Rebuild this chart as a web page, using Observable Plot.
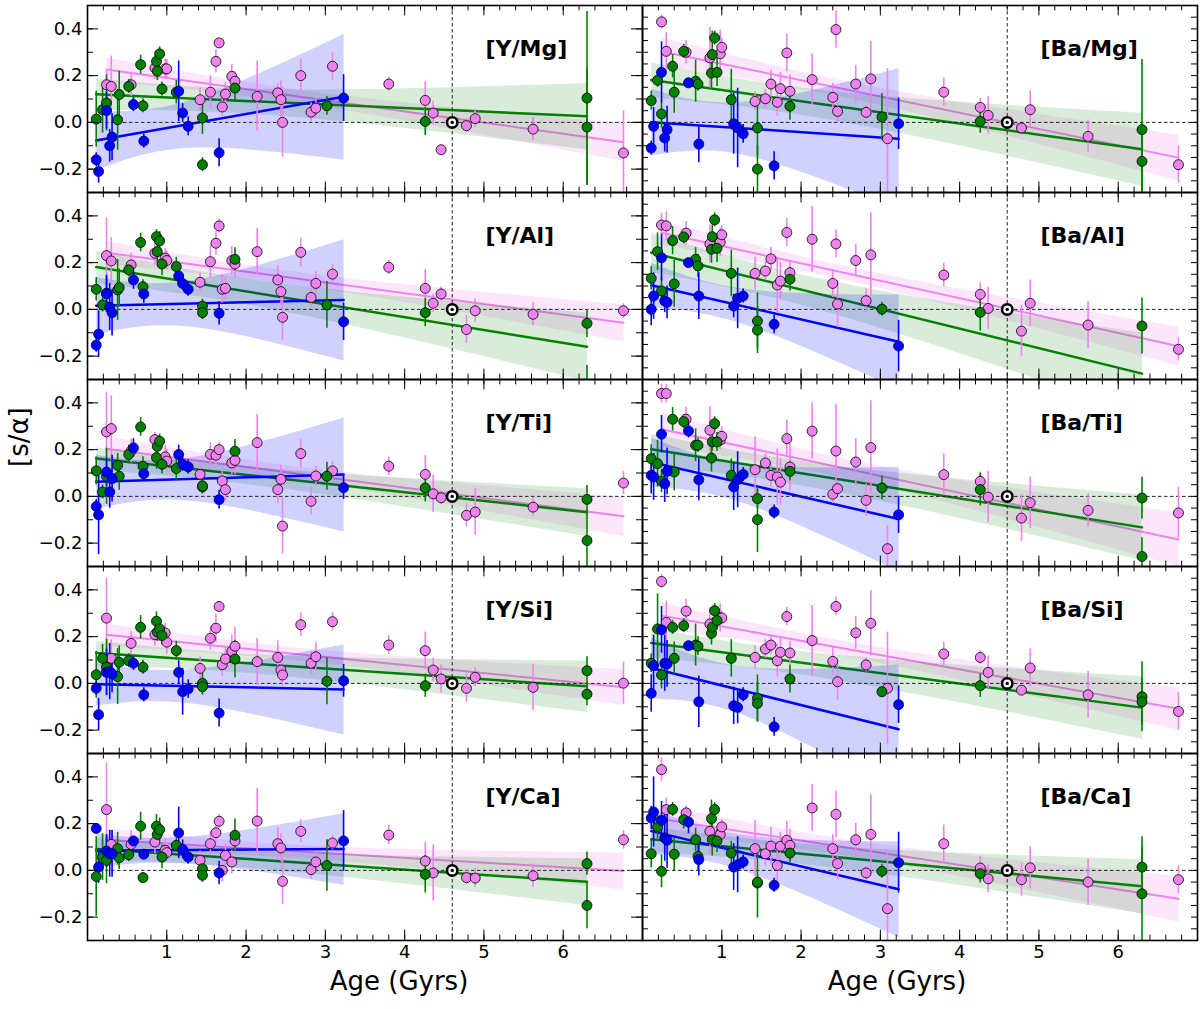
<!DOCTYPE html>
<html><head><meta charset="utf-8">
<script src="https://cdn.jsdelivr.net/npm/d3@7"></script>
<script src="https://cdn.jsdelivr.net/npm/@observablehq/plot@0.6"></script>
<style>body{margin:0;background:#fff}#chart svg{display:block}</style>
</head><body><div id="chart"></div>
<script>
// ---------- categories ----------
const cols = ["Y", "Ba"];
const rows = ["Mg", "Al", "Ti", "Si", "Ca"];
const groups = ["pink", "green", "blue"];
const groupColors = {pink: "#ee82ee", green: "#008000", blue: "#0000ff"};

// ---------- star ages (Gyr) per group ----------
const blueAges = [0.11, 0.14, 0.24, 0.28, 0.31, 0.58, 0.71, 1.15, 1.20, 1.27, 1.66, 3.23];
const greenAges = [0.11, 0.19, 0.24, 0.38, 0.40, 0.52, 0.67, 0.70, 0.87, 0.88, 0.91, 0.94, 1.12, 1.45, 1.45, 1.86, 3.02, 4.26, 6.30, 6.30];
const pinkAges = [0.24, 0.30, 0.55, 0.85, 0.98, 1.00, 1.42, 1.55, 1.62, 1.66, 1.70, 1.74, 1.82, 1.86, 2.14, 2.40, 2.44, 2.46, 2.69, 2.82, 2.88, 3.09, 3.80, 4.26, 4.36, 4.46, 4.78, 4.89, 5.62, 6.76];

// ---------- [s/alpha] values as [value, error] ----------
const blueYMg = [[-0.16,.03],[-0.21,.05],[0.05,.08],[-0.10,.07],[-0.063,.1],[0.076,.03],[-0.08,.03],[0.133,.13],[0.04,.04],[-0.017,.04],[-0.13,.06],[0.104,.1]];
const greenYMg = [[0.014,.12],[0.054,.1],[0.083,.12],[0.011,.13],[0.119,.1],[0.154,.03],[0.247,.04],[0.071,.03],[0.261,.04],[0.219,.04],[0.293,.03],[0.143,.03],[0.129,.05],[0.019,.07],[-0.181,.03],[0.147,.06],[0.071,.04],[0.004,.06],[0.104,.37],[-0.02,.25]];
const pinkYMg = [[0.161,.06],[0.154,.13],[0.161,.05],[0.233,.05],[0.229,.04],[0.229,.04],[0.097,.05],[0.129,.07],[0.261,.05],[0.34,.02],[0.066,.04],[0.121,.05],[0.197,.05],[0.176,.04],[0.111,.15],[0.126,.04],[0.097,.08],[0.0,.15],[0.2,.07],[0.044,.04],[0.061,.04],[0.24,.06],[0.164,.03],[0.094,.08],[0.04,.05],[-0.117,.02],[-0.014,.03],[0.016,.04],[-0.029,.05],[-0.131,.18]];

const blueBaMg = [[-0.11,.03],[-0.017,.08],[0.214,.13],[-0.067,.06],[-0.031,.1],[0.169,.02],[-0.093,.08],[-0.006,.13],[-0.024,.17],[-0.049,.04],[-0.186,.06],[-0.006,.11]];
const greenBaMg = [[0.093,.04],[0.18,.03],[0.036,.06],[0.24,.05],[0.129,.09],[0.304,.03],[0.176,.09],[0.164,.03],[0.211,.07],[0.29,.1],[0.361,.03],[0.214,.06],[0.097,.13],[-0.024,.12],[-0.2,.1],[0.069,.06],[0.023,.1],[0.004,.05],[-0.031,.3],[-0.167,.13]];
const pinkBaMg = [[0.43,.03],[0.304,.08],[0.3,.05],[0.276,.13],[0.294,.1],[0.321,.04],[0.09,.04],[0.101,.04],[0.164,.06],null,[0.086,.06],[0.144,.07],[0.297,.08],[0.133,.07],[0.183,.11],[0.107,.06],[0.397,.08],[0.047,.05],[0.164,.08],[0.043,.03],[0.186,.16],[-0.07,.3],[0.129,.06],[0.064,.04],[0.03,.08],null,[-0.024,.02],[0.054,.08],[-0.06,.07],[-0.181,.08]];

const blueYAl = [[-0.153,.03],[-0.106,.1],[0.066,.08],[0.01,.1],[-0.014,.1],[0.126,.04],[0.066,.04],[0.143,.04],[0.111,.03],[0.086,.03],[-0.017,.05],[-0.053,.08]];
const greenYAl = [[0.086,.05],[0.019,.03],[0.069,.07],[0.083,.13],[0.093,.08],[0.169,.03],[0.286,.04],[0.097,.03],[0.311,.03],[0.247,.05],[0.293,.04],[0.194,.05],[0.183,.04],[0.014,.03],[-0.014,.03],[0.214,.05],[0.019,.1],[-0.014,.06],[-0.06,.06],[-0.34,.1]];
const pinkYAl = [[0.23,.16],[0.207,.1],[0.19,.05],[0.24,.05],[0.219,.04],[0.209,.04],[0.116,.04],[0.204,.07],[0.283,.05],[0.357,.03],[0.086,.06],[0.09,.05],[0.209,.06],[0.194,.06],[0.247,.1],[0.126,.06],[0.076,.06],[-0.034,.1],[0.244,.06],[0.051,.04],[0.111,.05],[0.151,.04],[0.18,.03],[0.09,.08],[0.026,.04],[0.066,.03],[-0.086,.06],[-0.006,.05],[-0.021,.05],[-0.006,.03]];

const blueBaAl = [[0.0,.07],[0.057,.1],[0.221,.1],[0.036,.05],[0.03,.07],[0.2,.02],[0.057,.1],[0.014,.05],[0.047,.13],[0.057,.03],[-0.064,.04],[-0.157,.11]];
const greenBaAl = [[0.133,.05],[0.247,.08],[0.079,.06],[0.294,.06],[0.109,.1],[0.31,.03],[0.214,.05],[0.186,.05],[0.257,.06],[0.311,.05],[0.383,.03],[0.261,.06],[0.154,.1],[-0.05,.12],[-0.089,.1],[0.129,.05],[0.001,.03],[-0.013,.08],[-0.071,.12],[-0.53,.15]];
const pinkBaAl = [[0.361,.05],[0.357,.06],[0.326,.05],[0.28,.08],[0.287,.06],[0.319,.04],[0.154,.07],[0.164,.04],[0.216,.05],null,[0.104,.12],[0.121,.08],[0.329,.06],[0.157,.05],[0.3,.14],[0.111,.06],[0.28,.06],[0.023,.1],[0.209,.07],[0.037,.05],[0.233,.18],null,[0.147,.05],[0.064,.05],[0.004,.09],null,[-0.093,.11],[0.026,.1],[-0.067,.1],[-0.171,.05]];

const blueYTi = [[-0.043,.03],[-0.079,.17],[0.104,.06],[0.019,.07],[0.076,.1],[0.207,.04],[0.097,.03],[0.179,.04],[0.137,.03],[0.126,.03],[-0.014,.04],[0.037,.05]];
const greenYTi = [[0.109,.06],[0.019,.03],[0.086,.12],[0.133,.05],[0.086,.06],[0.179,.04],[0.297,.04],[0.129,.04],[0.166,.05],[0.214,.04],[0.236,.03],[0.137,.04],[0.119,.05],[0.04,.03],[0.045,.03],[0.193,.05],[0.086,.06],[0.036,.06],[-0.013,.06],[-0.189,.13]];
const pinkYTi = [[0.276,.17],[0.29,.14],[0.194,.05],[0.243,.03],[0.169,.05],[0.151,.05],[0.094,.04],[0.18,.05],[0.176,.04],[0.2,.03],[0.066,.04],[0.029,.05],[0.143,.05],[0.154,.06],[0.23,.12],[0.029,.06],[0.073,.06],[-0.127,.12],[0.183,.06],[-0.021,.06],[0.087,.04],[0.109,.04],[0.129,.04],[0.094,.08],[0.011,.08],[-0.006,.03],[-0.081,.05],[-0.067,.1],[-0.046,.04],[0.057,.05]];

const blueBaTi = [[0.09,.08],[0.083,.1],[0.266,.08],[0.054,.08],[0.107,.1],[0.28,.03],[0.071,.09],[0.04,.1],[0.071,.12],[0.094,.03],[-0.067,.03],[-0.079,.08]];
const greenBaTi = [[0.161,.06],[0.14,.1],[0.066,.05],[0.33,.05],[0.104,.08],[0.32,.03],[0.219,.07],[0.219,.03],[0.164,.06],[0.233,.04],[0.311,.03],[0.233,.04],[0.09,.07],[-0.01,.04],[-0.1,.14],[0.107,.04],[0.036,.05],[0.029,.07],[-0.007,.09],[-0.257,.08]];
const pinkBaTi = [[0.44,.04],[0.44,.04],[0.33,.05],[0.283,.1],[0.24,.04],[0.257,.04],[0.114,.14],[0.143,.04],[0.09,.05],null,[0.083,.12],[0.061,.1],[0.247,.08],[0.126,.1],[0.279,.12],[0.009,.04],[0.194,.2],[0.033,.03],[0.147,.1],[-0.017,.07],[0.209,.2],[-0.224,.1],[0.093,.09],[0.064,.04],[-0.003,.11],null,[-0.093,.1],[-0.027,.11],[-0.06,.07],[-0.071,.11]];

const blueYSi = [[-0.021,.03],[-0.134,.07],[0.047,.1],[0.05,.12],[0.04,.08],[0.086,.03],[-0.049,.03],[0.047,.05],[-0.036,.1],[-0.024,.04],[-0.127,.06],[0.011,.07]];
const greenYSi = [[0.037,.1],[0.107,.06],[0.069,.12],[0.029,.12],[0.09,.07],[0.097,.03],[0.24,.05],[0.069,.03],[0.266,.04],[0.22,.04],[0.233,.04],[0.205,.04],[0.14,.04],[0.0,.05],[-0.014,.03],[0.104,.08],[0.009,.1],[-0.01,.05],[0.054,.06],[-0.046,.05]];
const pinkYSi = [[0.279,.17],[0.107,.08],[0.171,.05],[0.209,.05],[0.216,.04],[0.176,.05],[0.064,.05],[0.193,.05],[0.236,.06],[0.329,.02],[0.08,.05],[0.104,.05],[0.137,.07],[0.159,.08],[0.093,.1],[0.111,.07],[0.057,.05],[0.036,.05],[0.251,.05],[0.086,.05],[0.114,.06],[0.264,.04],[0.164,.04],[0.14,.08],[0.057,.05],[0.019,.06],[-0.021,.06],[0.026,.04],[-0.017,.1],[0.001,.09]];

const blueBaSi = [[-0.043,.08],[0.076,.13],[0.229,.1],[0.086,.12],[0.083,.1],[0.161,.02],[-0.079,.11],[-0.096,.08],[-0.103,.07],[-0.049,.03],[-0.186,.04],[-0.091,.08]];
const greenBaSi = [[0.086,.04],[0.233,.15],[0.036,.06],[0.24,.03],[0.107,.07],[0.247,.03],[0.164,.09],[0.159,.04],[0.214,.05],[0.24,.04],[0.311,.03],[0.269,.04],[0.107,.08],[-0.064,.1],[-0.086,.08],[0.019,.06],[-0.036,.02],[-0.01,.05],[-0.057,.15],[-0.079,.1]];
const pinkBaSi = [[0.436,.03],[0.261,.09],[0.309,.05],[0.254,.07],[0.28,.06],[0.28,.03],[0.111,.05],[0.147,.04],[0.164,.04],null,[0.097,.07],[0.133,.06],[0.286,.04],[0.13,.05],[0.183,.15],[0.094,.06],[0.329,.04],[0.007,.08],[0.216,.07],[0.079,.03],[0.257,.14],[-0.021,.24],[0.126,.05],[0.111,.03],[0.047,.07],null,[-0.029,.02],[0.066,.08],[-0.049,.1],[-0.12,.08]];

const blueYCa = [[0.179,.02],[0.014,.07],[0.083,.07],[0.071,.1],[0.071,.1],[0.126,.02],[0.069,.02],[0.16,.11],[0.09,.04],[0.057,.03],[-0.011,.05],[0.126,.13]];
const greenYCa = [[-0.026,.17],[0.057,.1],[0.043,.1],[0.093,.07],[0.054,.05],[0.067,.03],[0.189,.06],[-0.031,.02],[0.189,.05],[0.154,.04],[0.174,.05],[0.057,.05],[0.107,.03],[0.007,.03],[-0.021,.03],[0.15,.07],[0.021,.11],[-0.017,.08],[0.029,.05],[-0.15,.1]];
const pinkYCa = [[0.26,.2],[0.111,.06],[0.111,.06],[0.121,.05],[0.086,.05],[0.076,.04],[0.043,.04],[0.114,.05],[0.161,.04],[0.21,.03],[0.0,.05],[0.064,.05],[0.036,.05],[0.126,.05],[0.211,.14],[0.114,.07],[0.096,.06],[-0.047,.1],[0.167,.05],[0.003,.04],[0.036,.04],[0.117,.03],[0.151,.04],[0.04,.08],[-0.011,.12],null,[-0.031,.03],[-0.033,.04],[-0.023,.05],[0.131,.04]];

const blueBaCa = [[0.224,.05],[0.25,.15],[0.214,.08],[0.139,.1],[0.129,.12],[0.207,.05],[0.046,.07],[0.014,.1],[0.024,.12],[0.036,.03],[-0.064,.03],[0.033,.13]];
const greenBaCa = [[0.071,.06],[0.186,.05],[-0.004,.07],[0.261,.03],[0.069,.07],[0.217,.04],[0.131,.05],[0.06,.06],[0.221,.08],[0.131,.07],[0.26,.03],[0.126,.05],[0.074,.05],[-0.054,.15],[-0.05,.03],[0.074,.04],[-0.004,.03],[-0.014,.04],[0.014,.13],[-0.1,.2]];
const pinkBaCa = [[0.431,.05],[0.26,.05],[0.246,.03],[0.167,.1],[0.153,.05],[0.186,.03],[0.093,.12],[0.071,.05],[0.104,.08],null,[0.021,.1],[0.103,.06],[0.129,.08],[0.107,.07],[0.267,.1],[0.093,.06],[0.24,.1],[0.029,.07],[0.131,.07],[-0.011,.03],[0.154,.17],[-0.164,.25],[0.114,.08],[0.01,.05],[-0.036,.06],null,[-0.04,.07],[0.011,.09],[-0.05,.1],[-0.04,.06]];

// ---------- reference & ticks ----------
const sunPoint = [{age: 4.6, y: 0}];
const xTickLabels = [1, 2, 3, 4, 5, 6];
const yTickLabels = [-0.2, 0.0, 0.2, 0.4];
const xDomain = [0, 7];
const yDomain = [-0.3, 0.5];

// ---------- build table ----------
const ages = {blue: blueAges, green: greenAges, pink: pinkAges};
const values = {
  Y:  {Mg: {blue: blueYMg, green: greenYMg, pink: pinkYMg}, Al: {blue: blueYAl, green: greenYAl, pink: pinkYAl},
       Ti: {blue: blueYTi, green: greenYTi, pink: pinkYTi}, Si: {blue: blueYSi, green: greenYSi, pink: pinkYSi},
       Ca: {blue: blueYCa, green: greenYCa, pink: pinkYCa}},
  Ba: {Mg: {blue: blueBaMg, green: greenBaMg, pink: pinkBaMg}, Al: {blue: blueBaAl, green: greenBaAl, pink: pinkBaAl},
       Ti: {blue: blueBaTi, green: greenBaTi, pink: pinkBaTi}, Si: {blue: blueBaSi, green: greenBaSi, pink: pinkBaSi},
       Ca: {blue: blueBaCa, green: greenBaCa, pink: pinkBaCa}}
};
const table = [];
for (const g of groups) for (const c of cols) for (const r of rows) {
  values[c][r][g].forEach((v, i) => {
    if (v) table.push({col: c, row: r, group: g, color: groupColors[g], age: ages[g][i], y: v[0], err: v[1]});
  });
}
const panelLabels = [];
for (const c of cols) for (const r of rows) panelLabels.push({col: c, row: r, label: `[${c}/${r}]`});

// ---------- layout ----------
const W = 1200, H = 1009, mL = 87, mR = 3, mT = 3, mB = 68;
const panelW = (W - mL - mR) / 2, panelH = (H - mT - mB) / rows.length;
const leftMinorY = d3.range(-0.3, 0.5001, 0.1).map(v => ({col: "Y", v}));
const leftMajorY = yTickLabels.map(v => ({col: "Y", v}));
const rightMinorY = d3.range(-0.3, 0.5001, 0.05).map(v => ({col: "Ba", v}));
const xMinor = d3.range(0, 7.001, 0.2);
const byGroup = g => table.filter(d => d.group === g);
const F = {fx: "col", fy: "row"};

const tickMarks = [];
for (const [vals, len] of [[leftMinorY, 6], [leftMajorY, 11], [rightMinorY, 6]]) {
  tickMarks.push(Plot.tickY(vals, {fx: "col", y: "v", insetRight: panelW - len, stroke: "black", strokeWidth: 1}));
  tickMarks.push(Plot.tickY(vals, {fx: "col", y: "v", insetLeft: panelW - len, stroke: "black", strokeWidth: 1}));
}
for (const [vals, len] of [[xMinor, 6], [xTickLabels, 11]]) {
  tickMarks.push(Plot.tickX(vals, {x: d => d, insetTop: panelH - len, stroke: "black", strokeWidth: 1}));
  tickMarks.push(Plot.tickX(vals, {x: d => d, insetBottom: panelH - len, stroke: "black", strokeWidth: 1}));
}

const groupMarks = [];
for (const g of groups) {
  groupMarks.push(Plot.ruleX(byGroup(g), {...F, x: "age", y1: d => d.y - d.err, y2: d => d.y + d.err,
    stroke: "color", strokeWidth: 1.6, clip: true}));
}
for (const g of groups) {
  groupMarks.push(Plot.dot(byGroup(g), {...F, x: "age", y: "y", r: 5, fill: "color",
    stroke: g === "blue" ? "#000060" : "black", strokeWidth: 0.8, clip: true}));
}

const chart = Plot.plot({
  width: W, height: H,
  marginLeft: mL, marginRight: mR, marginTop: mT, marginBottom: mB,
  style: {fontFamily: "DejaVu Sans", background: "white", color: "black"},
  x: {domain: xDomain},
  y: {domain: yDomain},
  fx: {domain: cols, padding: 0, axis: null},
  fy: {domain: rows, padding: 0, axis: null},
  color: {type: "identity"},
  marks: [
    Plot.linearRegressionY(byGroup("pink"), {...F, x: "age", y: "y", stroke: "color", fill: "color", fillOpacity: 0.2, strokeWidth: 2, clip: true}),
    Plot.linearRegressionY(byGroup("green"), {...F, x: "age", y: "y", stroke: "color", fill: "color", fillOpacity: 0.15, strokeWidth: 2.5, clip: true}),
    Plot.linearRegressionY(byGroup("blue"), {...F, x: "age", y: "y", stroke: "color", fill: "color", fillOpacity: 0.18, strokeWidth: 2.5, ci: 0.99, clip: true}),
    Plot.ruleY([0], {stroke: "#222", strokeWidth: 1, strokeDasharray: "3.5,2.5"}),
    Plot.ruleX([sunPoint[0].age], {stroke: "#222", strokeWidth: 1, strokeDasharray: "3.5,2.5"}),
    ...groupMarks,
    Plot.dot(sunPoint, {x: "age", y: "y", r: 5.2, fill: "white", stroke: "black", strokeWidth: 2.6}),
    Plot.dot(sunPoint, {x: "age", y: "y", r: 1.7, fill: "black"}),
    Plot.frame({stroke: "black", strokeWidth: 1.6}),
    ...tickMarks,
    Plot.axisY({ticks: yTickLabels, tickSize: 0, tickPadding: 5, tickFormat: d3.format(".1f"), fontSize: 18, label: null}),
    Plot.axisX({ticks: xTickLabels, tickSize: 0, tickPadding: 5, tickFormat: d3.format("d"), fontSize: 18, label: null}),
    Plot.text(panelLabels, {...F, text: "label", frameAnchor: "top-left", dx: 398, dy: 35, textAnchor: "start",
      fontSize: 22, fontWeight: "bold"}),
    Plot.text(["Age (Gyrs)"], {fx: () => "Y", fy: () => "Ca", text: d => d, frameAnchor: "bottom", dx: 34, dy: 49, fontSize: 26}),
    Plot.text(["Age (Gyrs)"], {fx: () => "Ba", fy: () => "Ca", text: d => d, frameAnchor: "bottom", dx: -23, dy: 49, fontSize: 26}),
    Plot.text(["[s/α]"], {fx: () => "Y", fy: () => "Ti", text: d => d, frameAnchor: "left", dx: -68, dy: -6, rotate: -90, fontSize: 26})
  ]
});
document.getElementById("chart").appendChild(chart);
</script>
</body></html>
